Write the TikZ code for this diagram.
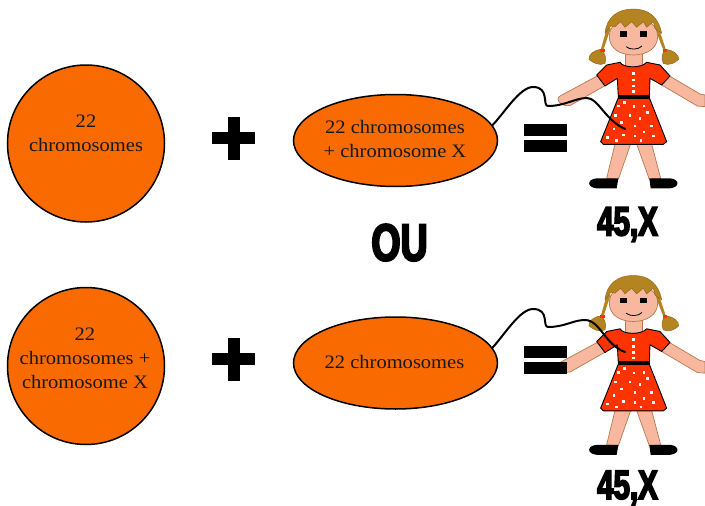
\documentclass[tikz,border=0pt]{standalone}
\usepackage{fontspec}
\setmainfont[FakeStretch=1.08]{Liberation Serif}
\newfontfamily\heavyfont[FakeStretch=0.72,FakeBold=4]{Liberation Sans Bold}
\usetikzlibrary{calc,shapes.geometric}
\definecolor{cellorange}{HTML}{F96A00}
\definecolor{skin}{HTML}{F8B8A0}
\definecolor{skinedge}{HTML}{B87850}
\definecolor{hair}{HTML}{B48420}
\definecolor{dress}{HTML}{FF3300}
\tikzset{
  cell/.style={draw=black,line width=1.5pt,fill=cellorange,inner sep=0pt},
  round cell/.style={cell,circle,minimum size=157pt},
  oval cell/.style={cell,ellipse,minimum width=204pt,minimum height=92pt},
  cell text/.style={align=center,font=\fontsize{19}{24}\selectfont,text=black!90,inner sep=0pt},
  heavy/.style={font=\heavyfont\fontsize{41}{41}\selectfont,inner sep=0pt,anchor=base},
  heavier/.style={font=\heavyfont\fontsize{52}{52}\selectfont,inner sep=0pt,anchor=base},
  bar/.style={fill=black,inner sep=0pt,draw=none},
  wire/.style={draw=black,line width=2pt,line cap=round,line join=round},
  skinpart/.style={fill=skin,draw=skinedge,line width=.7pt,line join=round},
  dresspart/.style={fill=dress,draw=black,line width=.9pt,line join=round},
  hairpart/.style={fill=hair,draw=hair!80!black,line width=.5pt,line join=round},
  dot/.style={fill=white,draw=none}
}
% Girl in a dress; #1 is the vertical offset of the figure, in points.
\newcommand{\girlfigure}[1]{%
\begin{scope}[shift={(490pt,-#1pt)},x=.3333pt,y=-.3333pt]
  % pigtails
  \fill[hair] (352,80) -- (362,85) -- (340,150) -- (332,150) -- cycle;
  \fill[hair] (505,80) -- (495,85) -- (520,150) -- (528,150) -- cycle;
  \path[hairpart] (335,148) .. controls (310,150) and (295,165) .. (297,178)
    .. controls (310,190) and (330,198) .. (345,190)
    .. controls (350,175) and (345,160) .. (335,148) -- cycle;
  \path[hairpart] (525,148) .. controls (550,150) and (568,165) .. (566,178)
    .. controls (555,190) and (535,198) .. (520,190)
    .. controls (512,175) and (517,160) .. (525,148) -- cycle;
  \fill[dress] (330,146) rectangle (344,155);
  \fill[dress] (518,146) rectangle (532,155);
  % legs
  \path[skinpart] (375,432) -- (422,432) -- (385,538) -- (350,535) -- cycle;
  \path[skinpart] (440,432) -- (485,432) -- (512,535) -- (478,538) -- cycle;
  % shoes
  \fill[black] (385,535) -- (320,535) .. controls (290,538) and (290,562) .. (320,565) -- (380,565) -- cycle;
  \fill[black] (478,535) -- (540,535) .. controls (570,538) and (570,562) .. (540,565) -- (482,565) -- cycle;
  % arms
  \path[skinpart] (325,226) -- (212,287) .. controls (200,292) and (203,304) .. (212,310)
    .. controls (225,320) and (240,320) .. (252,310) -- (345,257) -- cycle;
  \path[skinpart] (535,226) -- (630,282) -- (645,285) -- (645,320) -- (622,318) -- (515,255) -- cycle;
  % neck and head
  \path[skinpart] (405,150) rectangle (457,205);
  \path[skinpart] (430,55) .. controls (480,55) and (503,80) .. (503,110)
    .. controls (503,145) and (470,165) .. (430,165)
    .. controls (390,165) and (358,145) .. (358,110)
    .. controls (358,80) and (380,55) .. (430,55) -- cycle;
  % fringe
  \path[hairpart] (345,100) .. controls (350,50) and (385,27) .. (430,27)
    .. controls (475,27) and (505,50) .. (515,100)
    -- (495,85) -- (490,65) -- (470,82) -- (460,65) -- (440,82) -- (425,65) -- (405,82)
    -- (392,65) -- (375,80) -- (362,78) -- cycle;
  % eyes and smile
  \fill[black] (390,94) rectangle (412,110);
  \fill[black] (450,94) rectangle (472,110);
  \draw[black,line width=.8pt] (408,140) .. controls (420,150) and (445,150) .. (456,138);
  % dress
  \path[dresspart] (385,293) -- (478,293) -- (530,425) -- (520,433) -- (340,433) -- (332,425) -- cycle;
  \path[dresspart] (390,187) .. controls (400,205) and (455,205) .. (470,187)
    -- (510,195) -- (540,228) -- (515,255) -- (480,235) -- (478,290) -- (385,290)
    -- (382,235) -- (345,258) -- (320,225) -- (350,195) -- cycle;
  \fill[black] (383,285) rectangle (479,296);
  % buttons and skirt dots
  \foreach \bx/\by in {430/220,430/240,430/258,430/275,403/307,385/318,432/320,462/318,
      377/347,420/347,450/355,472/337,395/368,372/387,435/378,485/378,400/405,352/413,
      380/422,435/408,462/396,490/408,453/422}
    \fill[dot] (\bx-4,\by-4) rectangle (\bx+4,\by+4);
\end{scope}}
\begin{document}
\begin{tikzpicture}[x=1pt,y=-1pt]
  \useasboundingbox (0,0) rectangle (705,506);
  \fill[white] (0,0) rectangle (705,506);

  % both figures sit beneath the connectors
  \girlfigure{0}
  \girlfigure{266.5}

  % upper row
  \node[round cell] (motherA) at (86,143.5) {};
  \node[cell text] (motherAtext) at (86,133) {22\\chromosomes};
  \node[bar,minimum width=43pt,minimum height=12pt] (plusAh) at (233.5,138) {};
  \node[bar,minimum width=12pt,minimum height=43pt] (plusAv) at (233.5,138) {};
  \node[oval cell] (fatherA) at (395.5,140.5) {};
  \node[cell text] (fatherAtext) at (395,139) {22 chromosomes\\+ chromosome X};
  \node[bar,minimum width=43pt,minimum height=12pt] (eqAtop) at (545.5,130) {};
  \node[bar,minimum width=43pt,minimum height=12pt] (eqAbot) at (545.5,146) {};
  \node[heavy] (labelA) at (627.5,235.5) {45,X};
  \node[heavier] (ou) at (399.5,260.5) {OU};
  \coordinate (dressA) at (625,129);
  \draw[wire] (fatherA.9) .. controls (505,112) and (520,87) .. (533,87)
    .. controls (550,87) and (542,106) .. (548,106)
    .. controls (565,106) and (575,98) .. (587,98)
    .. controls (598,98) and (605,120) .. (dressA);

  % lower row
  \node[round cell] (motherB) at (86,366) {};
  \node[cell text] (motherBtext) at (85,358.5) {22\\chromosomes +\\chromosome X};
  \node[bar,minimum width=43pt,minimum height=12pt] (plusBh) at (233.5,359) {};
  \node[bar,minimum width=12pt,minimum height=43pt] (plusBv) at (233.5,359) {};
  \node[oval cell] (fatherB) at (395.5,363) {};
  \node[cell text] (fatherBtext) at (394.5,362) {22 chromosomes};
  \node[bar,minimum width=43pt,minimum height=12pt] (eqBtop) at (545.5,352) {};
  \node[bar,minimum width=43pt,minimum height=12pt] (eqBbot) at (545.5,368) {};
  \node[heavy] (labelB) at (627.5,499) {45,X};
  \coordinate (dressB) at (625,352);
  \draw[wire] (fatherB.9) .. controls (505,334) and (520,309) .. (533,309)
    .. controls (550,309) and (542,327) .. (548,327)
    .. controls (565,327) and (573,320) .. (585,320)
    .. controls (600,320) and (605,345) .. (dressB);
\end{tikzpicture}
\end{document}
